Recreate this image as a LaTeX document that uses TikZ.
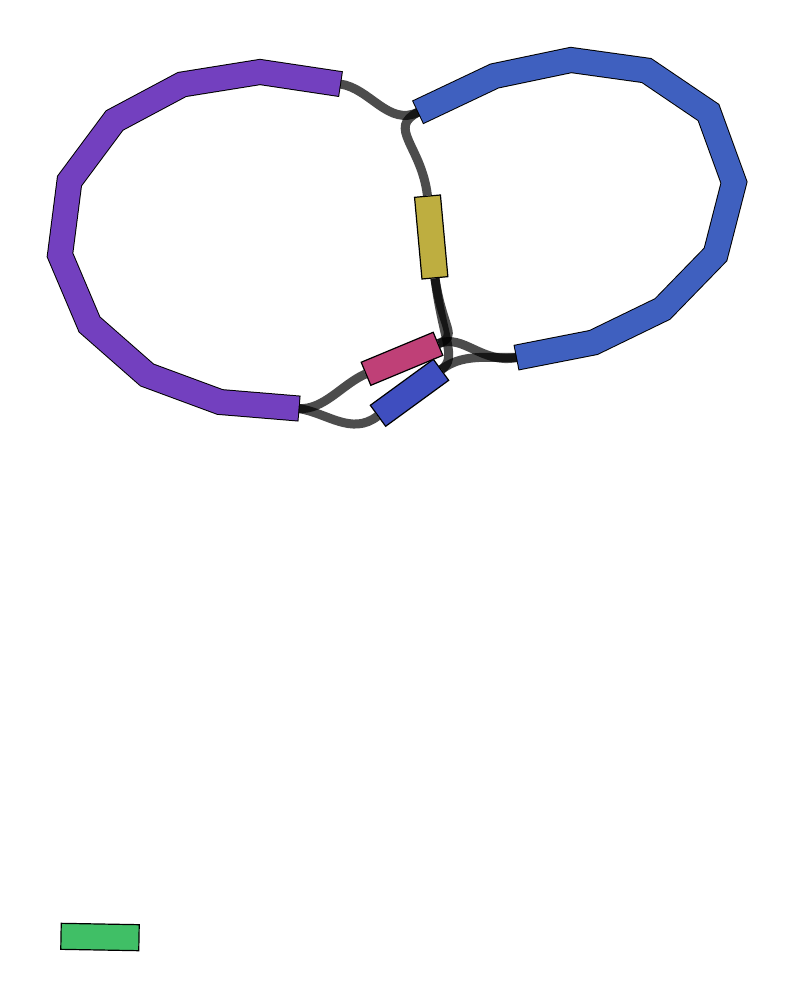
\documentclass[tikz,border=0pt]{standalone}
\usepackage{xcolor}
\usepackage{tikz}
\usetikzlibrary{backgrounds}

\definecolor{vioband}{RGB}{115,64,191}
\definecolor{bluband}{RGB}{63,96,191}
\definecolor{yelpart}{RGB}{190,174,64}
\definecolor{pinkpart}{RGB}{191,64,119}
\definecolor{dkbpart}{RGB}{63,78,191}
\definecolor{grnpart}{RGB}{64,191,102}

\tikzset{
    bandline/.style={line width=26pt, line join=miter, shorten <=-1pt, shorten >=-1pt},
    bandfill/.style={line width=24pt, line join=miter},
    part/.style={draw=black, line width=1.2pt, inner sep=0pt, minimum width=78pt, minimum height=25pt},
    link/.style={line width=9pt, black, draw opacity=0.7}
}

\newcommand\violoop{(vio1) -- (260,72) -- (182,84.5) -- (114.5,120.5) -- (69.5,181) -- (60,255) -- (89.5,324.5) -- (147,375) -- (220,402) -- (vio2)}
\newcommand\bluloop{(blu1) -- (494.5,76) -- (571,60) -- (646.5,70.5) -- (708.5,112.5) -- (734,182.5) -- (715.5,254.5) -- (662.5,309) -- (593.5,342.5) -- (blu2)}

\begin{document}
\begin{tikzpicture}[x=1pt, y=-1pt]
    \useasboundingbox (0,0) rectangle (796,1000);

    % band ends
    \coordinate (vio1) at (340,84);
    \coordinate (vio2) at (298.5,408.5);
    \coordinate (blu1) at (418.5,112);
    \coordinate (blu2) at (517,357.5);

    % bands
    \draw[bandline] \violoop;
    \draw[bandfill, vioband] \violoop;
    \draw[bandline] \bluloop;
    \draw[bandfill, bluband] \bluloop;

    % parts
    \node[part, fill=yelpart, minimum width=26pt, minimum height=82pt, rotate=5.2] (yel) at (431.2,237) {};
    \node[part, fill=pinkpart, rotate=22.6] (pink) at (402,358.8) {};
    \node[part, fill=dkbpart, minimum height=26pt, rotate=36.1] (dkb) at (409.5,392.8) {};
    \node[part, fill=grnpart, minimum height=26pt, rotate=-1] (grn) at (100,937) {};

    % links
    \begin{scope}[on background layer]
        \fill[white] (0,0) rectangle (796,1000);
        \draw[link] (vio1) .. controls +(30,4) and +(-30,15) .. (blu1);
        \draw[link] (blu1) .. controls +(-32,16) and +(-6,-50) .. (yel.north);
        \draw[link] (yel.south) .. controls +(8,52) and +(20,-8) .. (pink.east);
        \draw[link] (yel.south) .. controls +(8,62) and +(16,-12) .. (dkb.east);
        \draw[link] (pink.east) .. controls +(25,-10) and +(-35,7) .. (blu2);
        \draw[link] (dkb.east) .. controls +(20,-15) and +(-35,0) .. (blu2);
        \draw[link] (vio2) .. controls +(25,2) and +(-23,10) .. (pink.west);
        \draw[link] (vio2) .. controls +(28,4) and +(-26,20) .. (dkb.west);
    \end{scope}
\end{tikzpicture}
\end{document}
